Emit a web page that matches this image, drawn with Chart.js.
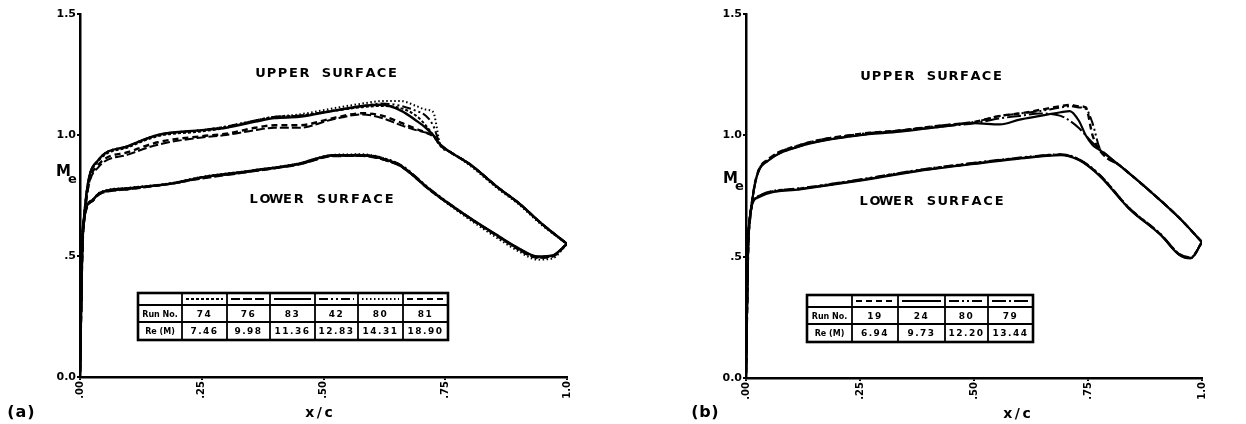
<!DOCTYPE html>
<html>
<head>
<meta charset="utf-8">
<script src="https://cdn.jsdelivr.net/npm/chart.js@4.4.1/dist/chart.umd.min.js"></script>
<style>
  html, body { margin: 0; padding: 0; background: #fff; width: 1246px; height: 424px; overflow: hidden; }
  .panel { position: absolute; top: 0; width: 623px; height: 424px; }
  #panelA { left: 0; }
  #panelB { left: 623px; }
</style>
</head>
<body>
<div class="panel" id="panelA"><canvas id="chartA" width="623" height="424"></canvas></div>
<div class="panel" id="panelB"><canvas id="chartB" width="623" height="424"></canvas></div>
<script>
// ---------- axis tick labels ----------
const xTickLabels = ['.00', '.25', '.50', '.75', '1.0'];
const yTickLabels = ['0.0', '.5', '1.0', '1.5'];

// ---------- panel (a): runs and Reynolds numbers (millions) ----------
const runsA = ['74', '76', '83', '42', '80', '81'];
const reA = ['7.46', '9.98', '11.36', '12.83', '14.31', '18.90'];

// chordwise stations, upper surface (a)
const xUpperA = [0, 0.006, 0.037, 0.10, 0.16, 0.25, 0.30, 0.36, 0.40, 0.45, 0.52, 0.58, 0.62, 0.66, 0.69, 0.71, 0.725, 0.74, 0.76, 0.80, 0.86, 0.90, 0.95, 1.0];
const upper74 = [0.02, 0.60, 0.89, 0.95, 0.995, 1.015, 1.03, 1.06, 1.075, 1.08, 1.10, 1.115, 1.12, 1.11, 1.08, 1.04, 1.00, 0.955, 0.93, 0.88, 0.78, 0.72, 0.63, 0.55];
const upper76 = [0.02, 0.58, 0.865, 0.92, 0.96, 0.99, 1.00, 1.02, 1.03, 1.03, 1.065, 1.085, 1.07, 1.04, 1.02, 1.01, 1.00, 0.96, 0.93, 0.88, 0.78, 0.72, 0.63, 0.55];
const upper83 = [0.02, 0.60, 0.895, 0.955, 1.00, 1.02, 1.03, 1.055, 1.07, 1.075, 1.10, 1.12, 1.125, 1.10, 1.06, 1.03, 1.00, 0.96, 0.93, 0.88, 0.78, 0.72, 0.63, 0.55];
const upper42 = [0.02, 0.60, 0.895, 0.955, 1.00, 1.02, 1.035, 1.06, 1.075, 1.08, 1.10, 1.12, 1.13, 1.12, 1.10, 1.08, 1.04, 0.96, 0.93, 0.88, 0.78, 0.72, 0.63, 0.55];
const upper80 = [0.02, 0.60, 0.895, 0.955, 1.00, 1.02, 1.035, 1.06, 1.075, 1.085, 1.11, 1.13, 1.14, 1.14, 1.12, 1.105, 1.095, 0.96, 0.93, 0.875, 0.775, 0.715, 0.625, 0.55];
const upper81 = [0.02, 0.58, 0.875, 0.93, 0.97, 0.995, 1.005, 1.03, 1.04, 1.04, 1.07, 1.09, 1.08, 1.05, 1.025, 1.01, 0.995, 0.96, 0.93, 0.88, 0.78, 0.72, 0.63, 0.55];

// chordwise stations, lower surface (a)
const xLowerA = [0, 0.006, 0.025, 0.04, 0.10, 0.19, 0.25, 0.35, 0.45, 0.52, 0.58, 0.63, 0.66, 0.72, 0.79, 0.86, 0.90, 0.94, 0.97, 1.0];
const lower74 = [0.02, 0.62, 0.73, 0.76, 0.78, 0.80, 0.825, 0.85, 0.88, 0.915, 0.915, 0.895, 0.87, 0.77, 0.67, 0.58, 0.53, 0.495, 0.50, 0.55];
const lower76 = [0.02, 0.61, 0.725, 0.755, 0.775, 0.80, 0.82, 0.848, 0.878, 0.912, 0.913, 0.893, 0.868, 0.77, 0.67, 0.58, 0.532, 0.497, 0.502, 0.55];
const lower83 = [0.02, 0.62, 0.73, 0.76, 0.78, 0.80, 0.825, 0.852, 0.882, 0.917, 0.917, 0.897, 0.872, 0.772, 0.672, 0.582, 0.533, 0.498, 0.502, 0.55];
const lower42 = [0.02, 0.62, 0.73, 0.76, 0.78, 0.80, 0.825, 0.85, 0.88, 0.915, 0.918, 0.90, 0.875, 0.775, 0.672, 0.58, 0.528, 0.493, 0.498, 0.55];
const lower80 = [0.02, 0.62, 0.73, 0.762, 0.782, 0.802, 0.827, 0.853, 0.883, 0.918, 0.92, 0.90, 0.872, 0.77, 0.665, 0.57, 0.52, 0.485, 0.49, 0.55];
const lower81 = [0.02, 0.61, 0.727, 0.757, 0.777, 0.80, 0.823, 0.85, 0.88, 0.914, 0.915, 0.895, 0.87, 0.77, 0.67, 0.578, 0.528, 0.493, 0.498, 0.55];

// ---------- panel (b): runs and Reynolds numbers (millions) ----------
const runsB = ['19', '24', '80', '79'];
const reB = ['6.94', '9.73', '12.20', '13.44'];

const xUpperB = [0, 0.006, 0.048, 0.118, 0.246, 0.338, 0.425, 0.50, 0.557, 0.60, 0.645, 0.69, 0.71, 0.73, 0.745, 0.76, 0.775, 0.82, 0.886, 0.95, 1.0];
const upper19 = [0.02, 0.60, 0.90, 0.96, 1.005, 1.02, 1.04, 1.055, 1.08, 1.09, 1.105, 1.12, 1.125, 1.12, 1.115, 1.00, 0.94, 0.875, 0.77, 0.66, 0.56];
const upper24 = [0.02, 0.60, 0.895, 0.955, 1.00, 1.015, 1.035, 1.05, 1.045, 1.065, 1.08, 1.095, 1.10, 1.06, 1.00, 0.96, 0.94, 0.875, 0.77, 0.66, 0.56];
const upperB80 = [0.02, 0.60, 0.90, 0.96, 1.005, 1.02, 1.04, 1.055, 1.08, 1.09, 1.10, 1.115, 1.12, 1.115, 1.11, 1.05, 0.95, 0.875, 0.77, 0.66, 0.56];
const upper79 = [0.02, 0.60, 0.895, 0.955, 1.00, 1.02, 1.035, 1.05, 1.07, 1.08, 1.09, 1.08, 1.06, 1.03, 1.00, 0.97, 0.945, 0.875, 0.77, 0.66, 0.56];

const xLowerB = [0, 0.006, 0.024, 0.118, 0.246, 0.38, 0.50, 0.62, 0.69, 0.73, 0.776, 0.84, 0.91, 0.95, 0.975, 1.0];
const lower19 = [0.02, 0.62, 0.745, 0.78, 0.815, 0.856, 0.885, 0.91, 0.92, 0.90, 0.835, 0.70, 0.59, 0.51, 0.495, 0.56];
const lower24 = [0.02, 0.62, 0.742, 0.777, 0.812, 0.853, 0.882, 0.908, 0.918, 0.898, 0.832, 0.698, 0.588, 0.508, 0.493, 0.56];
const lowerB80 = [0.02, 0.62, 0.747, 0.782, 0.817, 0.858, 0.887, 0.912, 0.922, 0.902, 0.837, 0.702, 0.592, 0.512, 0.497, 0.56];
const lower79 = [0.02, 0.62, 0.744, 0.779, 0.814, 0.855, 0.884, 0.91, 0.92, 0.90, 0.834, 0.699, 0.589, 0.509, 0.494, 0.56];

// ---------- line styles per run ----------
const styleA = {
  '74': { dash: [3, 2], width: 2 },
  '76': { dash: [9, 3], width: 2 },
  '83': { dash: [], width: 2.4 },
  '42': { dash: [9, 3, 2, 3, 2, 3], width: 2 },
  '80': { dash: [1.5, 2.5], width: 2 },
  '81': { dash: [6, 4], width: 2.4 }
};
const styleB = {
  '19': { dash: [6, 4], width: 2.4 },
  '24': { dash: [], width: 2.2 },
  '80': { dash: [10, 3, 2, 3, 2, 3], width: 2 },
  '79': { dash: [14, 3, 2, 3], width: 2 }
};

function pts(xs, ys) { return xs.map((x, i) => ({ x: x, y: ys[i] })); }

function makeDatasets(runs, styles, uppers, lowers, xu, xl) {
  const sets = [];
  runs.forEach((r, i) => {
    const st = styles[r];
    sets.push({ label: 'Run ' + r, surface: 'upper', run: r, data: pts(xu, uppers[i]),
      borderColor: '#000', borderWidth: st.width, borderDash: st.dash });
    sets.push({ label: 'Run ' + r + ' lower', surface: 'lower', run: r, data: pts(xl, lowers[i]),
      borderColor: '#000', borderWidth: st.width, borderDash: st.dash });
  });
  return sets;
}

const FONT = '"DejaVu Sans", sans-serif';
const Y_W = 40, X_H = 36, CW = 623, CH = 424;

// spaced letters, like a pen-plotter lettering
function drawSpaced(ctx, text, x, y, advance) {
  for (let i = 0; i < text.length; i++) {
    const ch = text[i];
    const w = ctx.measureText(ch).width;
    ctx.fillText(ch, x + i * advance + (advance - w) / 2, y);
  }
}

const lettering = {
  id: 'lettering',
  afterDraw(chart, args, o) {
    const ctx = chart.ctx;
    ctx.save();
    ctx.fillStyle = '#000';
    ctx.textBaseline = 'alphabetic';
    ctx.font = 'bold 13px ' + FONT;
    drawSpaced(ctx, 'UPPER SURFACE', o.upper[0], o.upper[1], 11);
    drawSpaced(ctx, 'LOWER SURFACE', o.lower[0], o.lower[1], 11.3);
    ctx.font = 'bold 15px ' + FONT;
    ctx.fillText('M', o.me[0], o.me[1]);
    ctx.font = 'bold 13px ' + FONT;
    ctx.fillText('e', o.me[0] + 12, o.me[1] + 7);
    ctx.font = 'bold 16px ' + FONT;
    drawSpaced(ctx, o.tag, o.tagPos[0], o.tagPos[1], 10);
    ctx.font = 'bold 14px ' + FONT;
    drawSpaced(ctx, 'x/c', o.xc[0], o.xc[1], 9.5);
    ctx.restore();
  }
};

const runTable = {
  id: 'runTable',
  afterDraw(chart, args, o) {
    const ctx = chart.ctx;
    const cols = o.cols, rows = o.rows;
    const L = cols[0], R = cols[cols.length - 1], T = rows[0], B = rows[rows.length - 1];
    const line = (x0, y0, x1, y1) => { ctx.beginPath(); ctx.moveTo(x0, y0); ctx.lineTo(x1, y1); ctx.stroke(); };
    ctx.save();
    ctx.fillStyle = '#fff';
    ctx.fillRect(L, T, R - L, B - T);
    ctx.strokeStyle = '#000';
    ctx.setLineDash([]);
    ctx.lineWidth = 1.8;
    cols.slice(1, -1).forEach(x => line(x, T, x, B));
    rows.slice(1, -1).forEach(y => line(L, y, R, y));
    ctx.lineWidth = 2.6;
    ctx.strokeRect(L, T, R - L, B - T);

    const uppers = chart.data.datasets.filter(d => d.surface === 'upper');
    const ym = (rows[0] + rows[1]) / 2;
    ctx.fillStyle = '#000';
    ctx.textAlign = 'center';
    ctx.textBaseline = 'middle';
    if ('letterSpacing' in ctx) ctx.letterSpacing = '1.5px';
    ctx.font = 'bold 9px ' + FONT;
    uppers.forEach((d, i) => {
      const x0 = cols[i + 1] + 4, x1 = cols[i + 2] - 4;
      ctx.setLineDash(d.borderDash);
      ctx.lineWidth = 2;
      line(x0, ym, x1, ym);
      ctx.setLineDash([]);
      const cx = (cols[i + 1] + cols[i + 2]) / 2;
      ctx.fillText(o.runs[i], cx, (rows[1] + rows[2]) / 2 + 1);
      ctx.fillText(o.re[i], cx, (rows[2] + rows[3]) / 2 + 1);
    });
    if ('letterSpacing' in ctx) ctx.letterSpacing = '0px';
    ctx.font = 'bold 8px ' + FONT;
    const c0 = (cols[0] + cols[1]) / 2;
    ctx.fillText('Run No.', c0, (rows[1] + rows[2]) / 2 + 1);
    ctx.fillText('Re (M)', c0, (rows[2] + rows[3]) / 2 + 1);
    ctx.restore();
  }
};

function makeOptions(area, letters, table) {
  return {
    responsive: false,
    animation: false,
    devicePixelRatio: 1,
    layout: { padding: { left: area.left - Y_W, right: CW - area.right, top: area.top, bottom: CH - area.bottom - X_H } },
    elements: { point: { radius: 0 }, line: { cubicInterpolationMode: 'monotone', fill: false } },
    plugins: {
      legend: { display: false },
      tooltip: { enabled: false },
      lettering: letters,
      runTable: table
    },
    scales: {
      x: {
        type: 'linear', min: 0, max: 1,
        afterFit: s => { s.height = X_H; },
        border: { display: true, color: '#000', width: 2.5 },
        grid: { display: true, drawOnChartArea: false, drawTicks: true, tickLength: 3, color: '#000', lineWidth: 2 },
        ticks: {
          stepSize: 0.25, minRotation: 90, maxRotation: 90, padding: 1, color: '#000',
          font: { family: FONT, size: 10, weight: 'bold' },
          callback: v => xTickLabels[Math.round(v / 0.25)]
        }
      },
      y: {
        type: 'linear', min: 0, max: 1.5,
        afterFit: s => { s.width = Y_W; },
        border: { display: true, color: '#000', width: 2.5 },
        grid: { display: true, drawOnChartArea: false, drawTicks: true, tickLength: 3, color: '#000', lineWidth: 2 },
        ticks: {
          stepSize: 0.5, padding: 1, color: '#000',
          font: { family: FONT, size: 11, weight: 'bold' },
          callback: v => yTickLabels[Math.round(v / 0.5)]
        }
      }
    }
  };
}

// ---------- panel (a) ----------
new Chart(document.getElementById('chartA'), {
  type: 'line',
  data: { datasets: makeDatasets(runsA, styleA,
    [upper74, upper76, upper83, upper42, upper80, upper81],
    [lower74, lower76, lower83, lower42, lower80, lower81],
    xUpperA, xLowerA) },
  options: makeOptions(
    { left: 80, right: 567, top: 14, bottom: 377 },
    { upper: [255, 77], lower: [248, 203], me: [56, 176], tag: '(a)', tagPos: [6, 417], xc: [305, 417] },
    { cols: [138, 182, 227, 270, 315, 358, 403, 448], rows: [293, 305, 322, 340], runs: runsA, re: reA }
  ),
  plugins: [runTable, lettering]
});

// ---------- panel (b) ----------
new Chart(document.getElementById('chartB'), {
  type: 'line',
  data: { datasets: makeDatasets(runsB, styleB,
    [upper19, upper24, upperB80, upper79],
    [lower19, lower24, lowerB80, lower79],
    xUpperB, xLowerB) },
  options: makeOptions(
    { left: 123, right: 579, top: 14, bottom: 378 },
    { upper: [237, 80], lower: [235, 205], me: [100, 183], tag: '(b)', tagPos: [67, 417], xc: [380, 418] },
    { cols: [184, 229, 275, 322, 365, 410], rows: [295, 307, 324, 342], runs: runsB, re: reB }
  ),
  plugins: [runTable, lettering]
});
</script>
</body>
</html>
